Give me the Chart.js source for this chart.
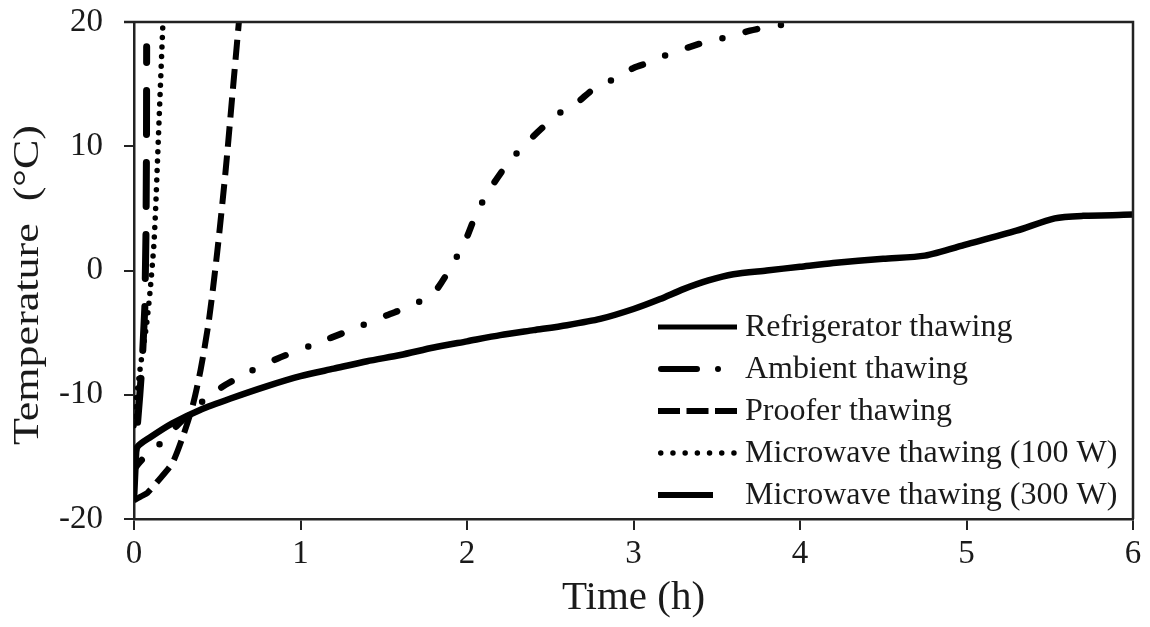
<!DOCTYPE html>
<html>
<head>
<meta charset="utf-8">
<script src="https://cdn.jsdelivr.net/npm/chart.js@4.4.1/dist/chart.umd.min.js"></script>
<style>
  html, body { margin: 0; padding: 0; background: #fff; }
  #wrap { width: 1150px; height: 627px; }
</style>
</head>
<body>
<div id="wrap"><canvas id="chart" width="1150" height="627"></canvas></div>
<script>
// series names, in legend order
const SERIES = [
    'Refrigerator thawing',
    'Ambient thawing',
    'Proofer thawing',
    'Microwave thawing (100 W)',
    'Microwave thawing (300 W)',
];
const X_TITLE = 'Time (h)';
const Y_TITLE = 'Temperature  (°C)';

// time (h) / temperature (°C)
const refrigTime = [0, 0.02, 0.1, 0.23, 0.4, 0.58, 0.8, 1.0, 1.2, 1.4, 1.6, 1.8, 2.0, 2.2, 2.4, 2.6, 2.8, 3.0, 3.16, 3.3, 3.45, 3.6, 3.8, 4.0, 4.2, 4.5, 4.75, 5.0, 5.3, 5.53, 5.7, 6.0];
const refrigTemp = [-15.5, -14.2, -13.4, -12.3, -11.2, -10.3, -9.3, -8.5, -7.9, -7.3, -6.8, -6.2, -5.7, -5.2, -4.8, -4.4, -3.9, -3.1, -2.3, -1.5, -0.8, -0.3, 0.0, 0.3, 0.6, 0.95, 1.2, 2.1, 3.2, 4.2, 4.4, 4.5];

const ambientTime = [0, 0.05, 0.13, 0.25, 0.35, 0.45, 0.55, 0.7, 0.86, 1.07, 1.3, 1.52, 1.67, 1.8, 1.9, 1.99, 2.06, 2.16, 2.25, 2.36, 2.47, 2.56, 2.66, 2.76, 2.88, 3.0, 3.13, 3.22, 3.34, 3.46, 3.57, 3.7, 3.81, 3.9, 3.95];
const ambientTemp = [-16, -15.2, -14.3, -12.6, -11.3, -10.1, -9.2, -8.1, -7.1, -6.0, -4.8, -3.6, -2.8, -1.8, 0.2, 2.4, 4.7, 7.0, 8.7, 10.3, 11.7, 12.7, 13.5, 14.6, 15.4, 16.3, 16.9, 17.5, 18.0, 18.5, 18.8, 19.3, 19.6, 19.8, 20];

const prooferTime = [0, 0.04, 0.08, 0.14, 0.23, 0.29, 0.35, 0.4, 0.45, 0.5, 0.55, 0.59, 0.63];
const prooferTemp = [-18.5, -18.2, -17.9, -17.0, -15.5, -13.5, -11.0, -8.0, -4.0, 1.5, 8.0, 14.0, 20];

const mw100Time = [0, 0.015, 0.03, 0.044, 0.06, 0.076, 0.097, 0.119, 0.13, 0.141, 0.157, 0.173];
const mw100Temp = [-12.5, -10.3, -8.6, -7.2, -5.8, -4.3, -1.6, 2.0, 5.0, 8.8, 14.3, 19.7];

const mw300Time = [0, 0.01, 0.02, 0.035, 0.05, 0.065, 0.072, 0.075, 0.076];
const mw300Temp = [-18, -15, -12.5, -10, -7.2, -3, 3, 10, 18];

const xTicks = [0, 1, 2, 3, 4, 5, 6];
const yTicks = [-20, -10, 0, 10, 20];

const FONT = 'Liberation Serif, Times New Roman, serif';
const INK = '#1a1a1a';

const pts = (xs, ys) => xs.map((x, i) => ({ x, y: ys[i] }));

// draws the top/right frame of the plot box
const frame = {
    id: 'frame',
    afterDatasetsDraw(chart) {
        const { ctx, chartArea: a } = chart;
        ctx.save();
        ctx.strokeStyle = '#222';
        ctx.lineWidth = 2.5;
        ctx.beginPath();
        ctx.moveTo(a.left - 10, a.top);
        ctx.lineTo(a.right, a.top);
        ctx.lineTo(a.right, a.bottom);
        ctx.stroke();
        ctx.restore();
    },
};

// axis titles, drawn by hand so the y one can be narrowed like the source
const axisTitles = {
    id: 'axisTitles',
    afterDraw(chart) {
        const { ctx, chartArea: a } = chart;
        ctx.save();
        ctx.fillStyle = INK;
        ctx.textAlign = 'center';
        ctx.textBaseline = 'middle';

        ctx.font = '41px ' + FONT;
        ctx.fillText(X_TITLE, (a.left + a.right) / 2, a.bottom + 79);

        ctx.save();
        ctx.translate(29, a.top + 263);
        ctx.rotate(-Math.PI / 2);
        ctx.scale(1, 0.8);
        ctx.font = '44px ' + FONT;
        ctx.fillText(Y_TITLE, 0, 0);
        ctx.restore();

        ctx.restore();
    },
};

// legend sits inside the plot, bottom right
const insideLegend = {
    id: 'insideLegend',
    afterDraw(chart) {
        const { ctx, chartArea: a } = chart;
        const x0 = a.right - 475, textX = a.right - 388;
        const y0 = a.bottom - 192, step = 42;
        ctx.save();
        chart.data.datasets.forEach((ds, i) => {
            const y = y0 + i * step;
            const s = ds.legendSample;
            ctx.strokeStyle = '#000';
            ctx.lineWidth = s.width;
            ctx.lineCap = s.cap;
            ctx.setLineDash(s.dash);
            const inset = s.cap === 'round' ? s.width / 2 : 0;
            ctx.beginPath();
            ctx.moveTo(x0 + inset, y);
            ctx.lineTo(x0 + s.len - inset, y);
            ctx.stroke();
            ctx.setLineDash([]);
            ctx.fillStyle = INK;
            ctx.font = '32px ' + FONT;
            ctx.textBaseline = 'middle';
            ctx.textAlign = 'left';
            ctx.fillText(ds.label, textX, y + 1);
        });
        ctx.restore();
    },
};

const common = {
    showLine: true,
    borderColor: '#000',
    backgroundColor: '#000',
    pointRadius: 0,
    tension: 0.25,
    borderJoinStyle: 'round',
    fill: false,
};

new Chart(document.getElementById('chart'), {
    type: 'scatter',
    data: {
        datasets: [
            { ...common, label: SERIES[0], data: pts(refrigTime, refrigTemp),
              borderWidth: 6.5, borderCapStyle: 'round',
              legendSample: { width: 5, cap: 'butt', dash: [], len: 79 } },
            { ...common, label: SERIES[1], data: pts(ambientTime, ambientTemp),
              borderWidth: 6.5, borderCapStyle: 'round', borderDash: [12, 24, 0, 24],
              legendSample: { width: 6, cap: 'round', dash: [36, 21, 0, 100], len: 79 } },
            { ...common, label: SERIES[2], data: pts(prooferTime, prooferTemp),
              borderWidth: 6, borderCapStyle: 'butt', borderDash: [20, 9],
              legendSample: { width: 6, cap: 'butt', dash: [22, 6.5], len: 79 } },
            { ...common, label: SERIES[3], data: pts(mw100Time, mw100Temp),
              borderWidth: 5.5, borderCapStyle: 'round', borderDash: [0, 9.5],
              legendSample: { width: 5.5, cap: 'round', dash: [0, 12.2], len: 79 } },
            { ...common, label: SERIES[4], data: pts(mw300Time, mw300Temp),
              borderWidth: 7, borderCapStyle: 'round', borderDash: [44, 28], tension: 0,
              legendSample: { width: 6, cap: 'butt', dash: [], len: 55 } },
        ],
    },
    options: {
        responsive: false,
        animation: false,
        devicePixelRatio: 1,
        layout: { padding: { left: 0, right: 17, top: 22, bottom: 0 } },
        plugins: {
            legend: { display: false },
            tooltip: { enabled: false },
        },
        scales: {
            x: {
                type: 'linear',
                min: 0, max: 6,
                afterFit: s => { s.height = 108; s.paddingLeft = 0; s.paddingRight = 0; },
                afterBuildTicks: s => { s.ticks = xTicks.map(v => ({ value: v })); },
                grid: { drawOnChartArea: false, drawTicks: true, tickLength: 11, color: '#222', lineWidth: 2 },
                border: { display: true, color: '#222', width: 2.5 },
                ticks: { color: INK, padding: 5, font: { family: FONT, size: 33 }, maxRotation: 0 },
            },
            y: {
                type: 'linear',
                min: -20, max: 20,
                afterFit: s => { s.width = 134; s.paddingTop = 0; s.paddingBottom = 0; },
                afterBuildTicks: s => { s.ticks = yTicks.map(v => ({ value: v })); },
                grid: { drawOnChartArea: false, drawTicks: true, tickLength: 10, color: '#222', lineWidth: 2 },
                border: { display: true, color: '#222', width: 2.5 },
                ticks: { color: INK, padding: 21, font: { family: FONT, size: 33 } },
            },
        },
    },
    plugins: [frame, axisTitles, insideLegend],
});
</script>
</body>
</html>
